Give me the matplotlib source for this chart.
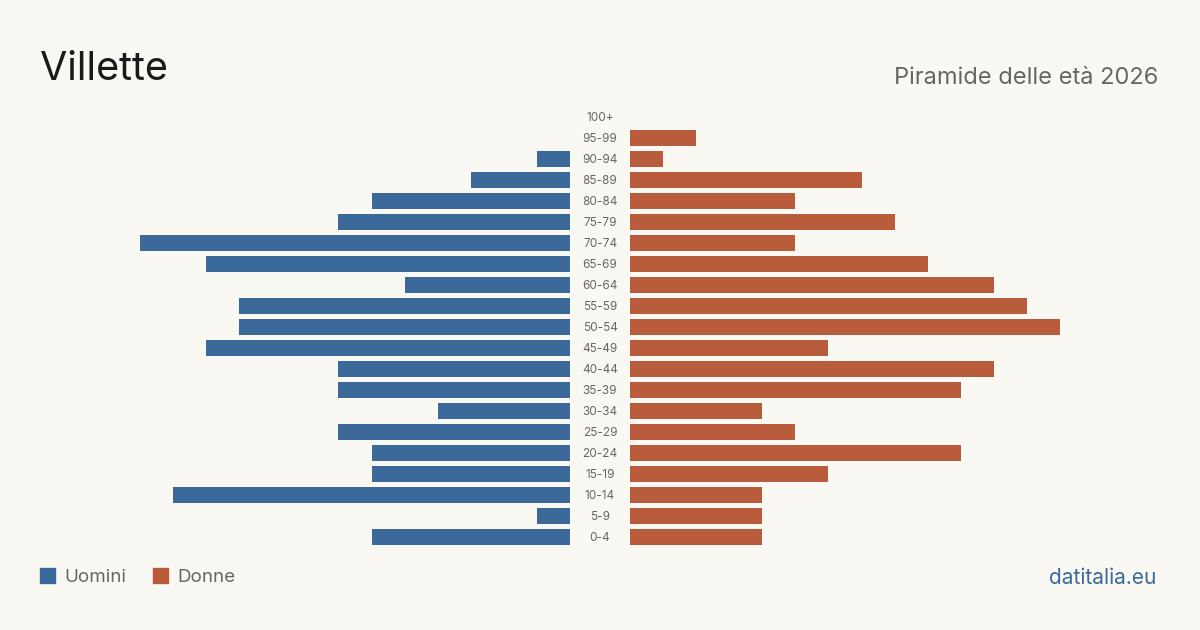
import matplotlib
matplotlib.use("Agg")
import matplotlib.pyplot as plt
from matplotlib.patches import Rectangle

age_groups = ["0-4", "5-9", "10-14", "15-19", "20-24", "25-29", "30-34", "35-39",
              "40-44", "45-49", "50-54", "55-59", "60-64", "65-69", "70-74", "75-79",
              "80-84", "85-89", "90-94", "95-99", "100+"]
men = [6, 1, 12, 6, 6, 7, 4, 7, 7, 11, 10, 10, 5, 11, 13, 7, 6, 3, 1, 0, 0]
women = [4, 4, 4, 6, 10, 5, 4, 10, 11, 6, 13, 12, 11, 9, 5, 8, 5, 7, 1, 2, 0]

BG = "#f9f8f3"
BLUE = "#3b6a9a"
ORANGE = "#b85c3c"
FONT = ["Inter", "DejaVu Sans"]
plt.rcParams["font.family"] = FONT

W, H = 1200, 630
fig = plt.figure(figsize=(12, 6.3), dpi=100, facecolor=BG)

bottom = 1 - 547.5 / H
height = 441 / H
axL = fig.add_axes([140 / W, bottom, 430 / W, height])
axR = fig.add_axes([630 / W, bottom, 430 / W, height])
ypos = list(range(len(age_groups)))
for ax in (axL, axR):
    ax.set_facecolor("none")
    for s in ax.spines.values():
        s.set_visible(False)
    ax.set_xticks([])
    ax.set_yticks([])
    ax.set_ylim(-0.5, len(age_groups) - 0.5)

axL.barh(ypos, men, height=0.79, color=BLUE)
axL.set_xlim(13, 0)
axR.barh(ypos, women, height=0.79, color=ORANGE)
axR.set_xlim(0, 13)

for y, lab in zip(ypos, age_groups):
    axL.annotate(lab, xy=(0, y), xycoords="data", xytext=(30, -1),
                 textcoords="offset pixels", ha="center", va="center",
                 fontsize=8.5, color="#666666")

fig.text(40 / W, 1 - 69 / H, "Villette", fontsize=28.5, color="#1a1a1a",
         ha="left", va="center")
fig.text(1158 / W, 1 - 78 / H, "Piramide delle età 2026", fontsize=17,
         color="#666666", ha="right", va="center")

fig.patches.append(Rectangle((40 / W, 1 - 583 / H), 15 / W, 15 / H,
                             transform=fig.transFigure, color=BLUE))
fig.text(64 / W, 1 - 577.5 / H, "Uomini", fontsize=13.5, color="#666666",
         ha="left", va="center")
fig.patches.append(Rectangle((153 / W, 1 - 583 / H), 15 / W, 15 / H,
                             transform=fig.transFigure, color=ORANGE))
fig.text(177 / W, 1 - 577.5 / H, "Donne", fontsize=13.5, color="#666666",
         ha="left", va="center")
fig.text(1156 / W, 1 - 577.5 / H, "datitalia.eu", fontsize=15, color=BLUE,
         ha="right", va="center")

fig.savefig("out.png", dpi=100, facecolor=BG)
